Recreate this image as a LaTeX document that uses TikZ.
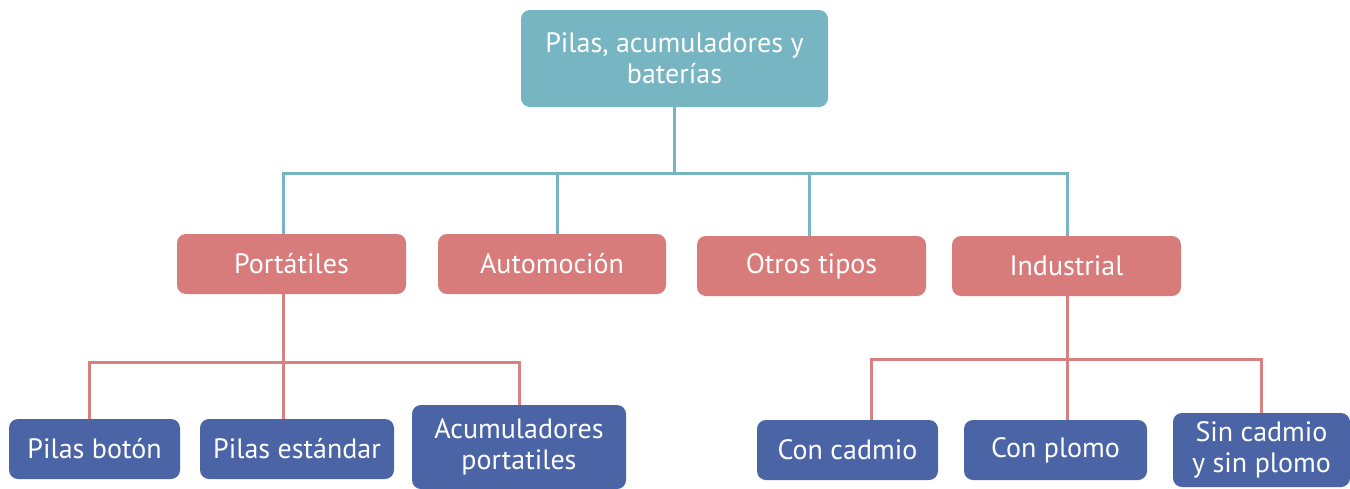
\documentclass[tikz,border=0pt]{standalone}
\usepackage{fontspec}
\setmainfont{PT Sans}
\definecolor{tealbox}{HTML}{78B5C3}
\definecolor{redbox}{HTML}{D77B7B}
\definecolor{bluebox}{HTML}{4A64A6}
\definecolor{redline}{HTML}{D98080}
\begin{document}
\begin{tikzpicture}[x=1pt,y=-1pt,
  box/.style={rounded corners=9pt, inner sep=0pt, align=center, text=white,
    font=\fontsize{28}{31}\selectfont},
  topbox/.style={box, fill=tealbox},
  midbox/.style={box, fill=redbox},
  lowbox/.style={box, fill=bluebox},
  tline/.style={draw=tealbox, line width=3pt},
  rline/.style={draw=redline, line width=3pt}]
\useasboundingbox (0,0) rectangle (1350,488);
\fill[white] (0,0) rectangle (1350,488);
% nodes
\node[topbox, minimum width=307pt, minimum height=97pt] (top) at (674.5,58.5) {Pilas, acumuladores y\\baterías};
\node[midbox, minimum width=229pt, minimum height=60pt] (port) at (291.5,264) {Portátiles};
\node[midbox, minimum width=228pt, minimum height=60pt] (auto) at (552,264) {Automoción};
\node[midbox, minimum width=229pt, minimum height=60pt] (otros) at (811.5,266) {Otros tipos};
\node[midbox, minimum width=229pt, minimum height=60pt] (indus) at (1066.5,266) {Industrial};
\node[lowbox, minimum width=171pt, minimum height=60pt] (boton) at (94.5,449) {Pilas botón};
\node[lowbox, minimum width=194pt, minimum height=60pt] (estandar) at (297,449) {Pilas estándar};
\node[lowbox, minimum width=214pt, minimum height=84pt] (acum) at (519,447) {Acumuladores\\portatiles};
\node[lowbox, minimum width=181pt, minimum height=60pt] (cadmio) at (847.5,450) {Con cadmio};
\node[lowbox, minimum width=183pt, minimum height=60pt] (plomo) at (1055.5,450) {Con plomo};
\node[lowbox, minimum width=177pt, minimum height=74pt] (sin) at (1261.5,450) {Sin cadmio\\y sin plomo};
% junctions
\coordinate (j1) at (674,173);
\coordinate (j1l) at (283,173);
\coordinate (j1r) at (1067,173);
\coordinate (j2) at (283,362);
\coordinate (j3) at (1067,359);
% teal connectors
\draw[tline] (top.south -| j1) -- (j1);
\draw[tline] ([xshift=-8.5pt]port.north) -- (j1l) -- (j1r) -- (indus.north -| j1r);
\draw[tline] ([xshift=5pt]auto.north) -- ([xshift=5pt]auto.north |- j1);
\draw[tline] ([xshift=-2.5pt]otros.north) -- ([xshift=-2.5pt]otros.north |- j1);
% red connectors Portátiles
\draw[rline] ([xshift=-8.5pt]port.south) -- (j2);
\draw[rline] ([xshift=-5.5pt]boton.north) |- (j2) -| (acum.north);
\draw[rline] ([xshift=-14pt]estandar.north) -- (j2);
% red connectors Industrial
\draw[rline] (indus.south -| j3) -- (j3);
\draw[rline] ([xshift=23.5pt]cadmio.north) |- (j3) -| ([xshift=-0.5pt]sin.north);
\draw[rline] ([xshift=11.5pt]plomo.north) -- (j3);
\end{tikzpicture}
\end{document}
